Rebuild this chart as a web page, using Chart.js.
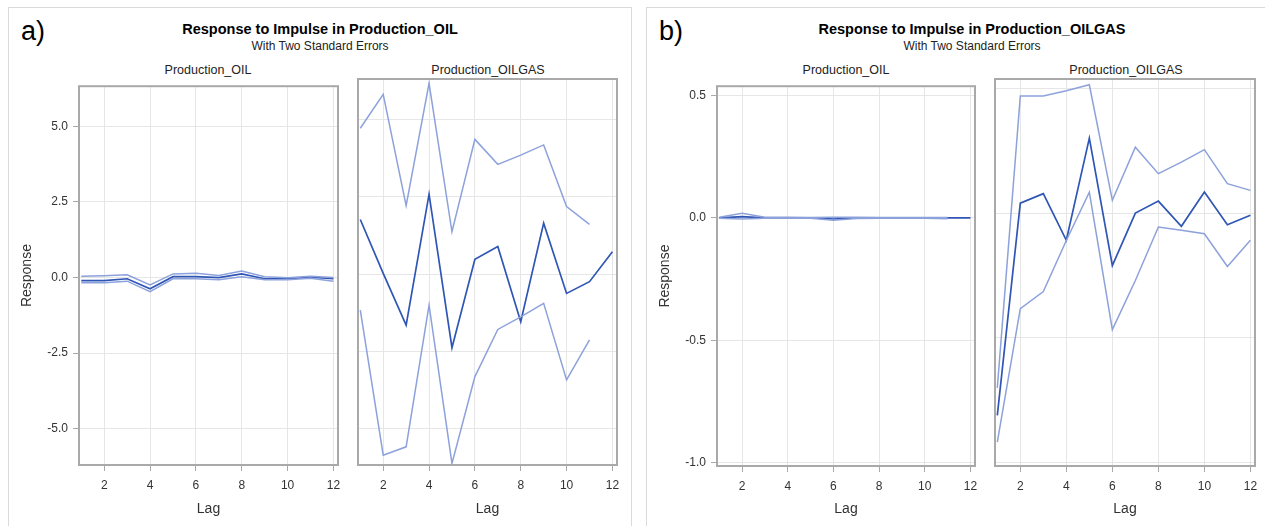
<!DOCTYPE html>
<html><head><meta charset="utf-8">
<script src="https://cdn.jsdelivr.net/npm/chart.js@4.4.1/dist/chart.umd.min.js"></script>
<style>
body{margin:0;width:1265px;height:526px;background:#fff;position:relative;overflow:hidden;font-family:"Liberation Sans",Arial,sans-serif;}
.box{position:absolute;border:1px solid #dadada;}
.t{position:absolute;white-space:nowrap;color:#000;transform:translate(-50%,-50%);line-height:1;}
canvas{position:absolute;}
</style></head><body>
<div class="box" style="left:8px;top:7px;width:622px;height:540px"></div>
<div class="box" style="left:646px;top:7px;width:650px;height:540px"></div>
<div class="t" style="left:33px;top:31px;font-size:27px;">a)</div>
<div class="t" style="left:671px;top:31px;font-size:27px;">b)</div>
<div class="t" style="left:320px;top:29px;font-size:14.5px;font-weight:bold;">Response to Impulse in Production_OIL</div>
<div class="t" style="left:320px;top:46px;font-size:12px;color:#222;">With Two Standard Errors</div>
<div class="t" style="left:972px;top:29px;font-size:14.5px;font-weight:bold;">Response to Impulse in Production_OILGAS</div>
<div class="t" style="left:972px;top:46px;font-size:12px;color:#222;">With Two Standard Errors</div>
<div class="t" style="left:208px;top:70px;font-size:12.5px;color:#222;">Production_OIL</div>
<div class="t" style="left:488px;top:70px;font-size:12.5px;color:#222;">Production_OILGAS</div>
<div class="t" style="left:846px;top:70px;font-size:12.5px;color:#222;">Production_OIL</div>
<div class="t" style="left:1126px;top:70px;font-size:12.5px;color:#222;">Production_OILGAS</div>
<canvas id="a1" width="348" height="452" style="left:0px;top:74px"></canvas>
<canvas id="a2" width="279" height="452" style="left:348px;top:74px"></canvas>
<canvas id="b1" width="347" height="452" style="left:638px;top:74px"></canvas>
<canvas id="b2" width="280" height="452" style="left:985px;top:74px"></canvas>
<script>
// ---- data ----
const lags = [1,2,3,4,5,6,7,8,9,10,11,12];
const xTickValues = [2,4,6,8,10,12];
const aYTickValues = [-5,-2.5,0,2.5,5];
const aYTickLabels = ['-5.0','-2.5','0.0','2.5','5.0'];
const bYTickValues = [-1,-0.5,0,0.5];
const bYTickLabels = ['-1.0','-0.5','0.0','0.5'];

// a) impulse in Production_OIL
const aOilResp  = [-0.10,-0.10,-0.04,-0.37,0.03,0.03,0.00,0.12,-0.04,-0.04,0.01,-0.04];
const aOilUpper = [0.04,0.06,0.09,-0.24,0.12,0.14,0.07,0.22,0.03,-0.01,0.04,0.00];
const aOilLower = [-0.17,-0.17,-0.12,-0.47,-0.04,-0.04,-0.07,0.03,-0.07,-0.07,-0.02,-0.12];
const aGasResp  = [1.77,0.02,-1.66,2.59,-2.39,0.48,0.89,-1.55,1.65,-0.63,-0.25,0.72];
const aGasUpper = [4.73,5.83,2.22,6.19,1.37,4.37,3.56,3.86,4.19,2.19,1.61];
const aGasLower = [-1.17,-5.88,-5.61,-1.01,-6.15,-3.33,-1.80,-1.39,-0.95,-3.44,-2.14];

// b) impulse in Production_OILGAS
const bOilResp  = [0.000,0.005,0.000,0.000,0.000,-0.005,0.000,0.000,0.000,0.000,0.000,0.000];
const bOilUpper = [0.002,0.018,0.002,0.002,0.001,0.002,0.002,0.001,0.001,0.001,0.001];
const bOilLower = [-0.002,-0.005,-0.002,-0.002,-0.002,-0.010,-0.003,-0.002,-0.002,-0.002,-0.004];
const bGasResp  = [-0.81,0.040,0.078,-0.109,0.300,-0.210,0.000,0.048,-0.053,0.084,-0.047,-0.009];
const bGasUpper = [-0.70,0.469,0.469,0.490,0.514,0.051,0.264,0.158,0.204,0.254,0.118,0.091];
const bGasLower = [-0.917,-0.383,-0.314,-0.110,0.084,-0.467,-0.270,-0.056,-0.069,-0.083,-0.214,-0.109];

// ---- drawing ----
const FONT = '"Liberation Sans", Arial, sans-serif';
const CENTER = '#2f56b5';
const BAND = '#8da1db';
const pts = vals => vals.map((v,i)=>({x:lags[i], y:v}));

const framePlugin = {
  id:'frame',
  afterDraw(chart){
    const {ctx, chartArea:a} = chart;
    ctx.save();
    ctx.strokeStyle = '#a9a9a9';
    ctx.lineWidth = 2;
    ctx.strokeRect(a.left, a.top, a.right-a.left, a.bottom-a.top);
    ctx.restore();
  }
};

function makeChart(id, resp, upper, lower, yMin, yMax, yVals, yLabels, first, xHeight){
  new Chart(document.getElementById(id), {
    type:'line',
    data:{datasets:[
      {data:pts(upper), borderColor:BAND, borderWidth:1.5},
      {data:pts(lower), borderColor:BAND, borderWidth:1.5},
      {data:pts(resp), borderColor:CENTER, borderWidth:1.7}
    ]},
    options:{
      responsive:false, animation:false, devicePixelRatio:1,
      layout:{padding:{top:5,right:10,left:0,bottom:0}},
      plugins:{legend:{display:false}, tooltip:{enabled:false}},
      elements:{point:{radius:0}, line:{tension:0, fill:false}},
      scales:{
        x:{type:'linear', min:0.9, max:12.2,
          afterBuildTicks:s=>{ s.ticks = xTickValues.map(v=>({value:v})); },
          afterFit:s=>{ s.height = xHeight; },
          grid:{color:'#e6e6e6', tickColor:'#a9a9a9', tickLength:6, lineWidth:1},
          border:{display:false},
          ticks:{padding:7, font:{size:12, family:FONT}, color:'#333', maxRotation:0, autoSkip:false,
                 callback:v=>String(v)},
          title:{display:true, text:'Lag', font:{size:14, family:FONT}, color:'#333', padding:{top:0,bottom:8}}
        },
        y:{type:'linear', min:yMin, max:yMax,
          afterBuildTicks:s=>{ s.ticks = yVals.map(v=>({value:v})); },
          afterFit:s=>{ s.width = first ? 79 : 10; },
          grid:{color:'#e6e6e6', tickColor:'#a9a9a9', tickLength:6, lineWidth:1, drawTicks:first},
          border:{display:false},
          ticks:{display:first, padding:5, font:{size:12, family:FONT}, color:'#333',
                 callback:(v)=>{ const i = yVals.indexOf(v); return i>=0 ? yLabels[i] : ''; }},
          title:{display:first, text:'Response', font:{size:14, family:FONT}, color:'#333', padding:{top:18.6,bottom:0}}
        }
      }
    },
    plugins:[framePlugin]
  });
}

makeChart('a1', aOilResp, aOilUpper, aOilLower, -6.2, 6.33, aYTickValues, aYTickLabels, true, 61);
makeChart('a2', aGasResp, aGasUpper, aGasLower, -6.2, 6.33, aYTickValues, aYTickLabels, false, 61);
makeChart('b1', bOilResp, bOilUpper, bOilLower, -1.013, 0.537, bYTickValues, bYTickLabels, true, 60);
makeChart('b2', bGasResp, bGasUpper, bGasLower, -1.013, 0.537, bYTickValues, bYTickLabels, false, 60);
</script>
</body></html>
